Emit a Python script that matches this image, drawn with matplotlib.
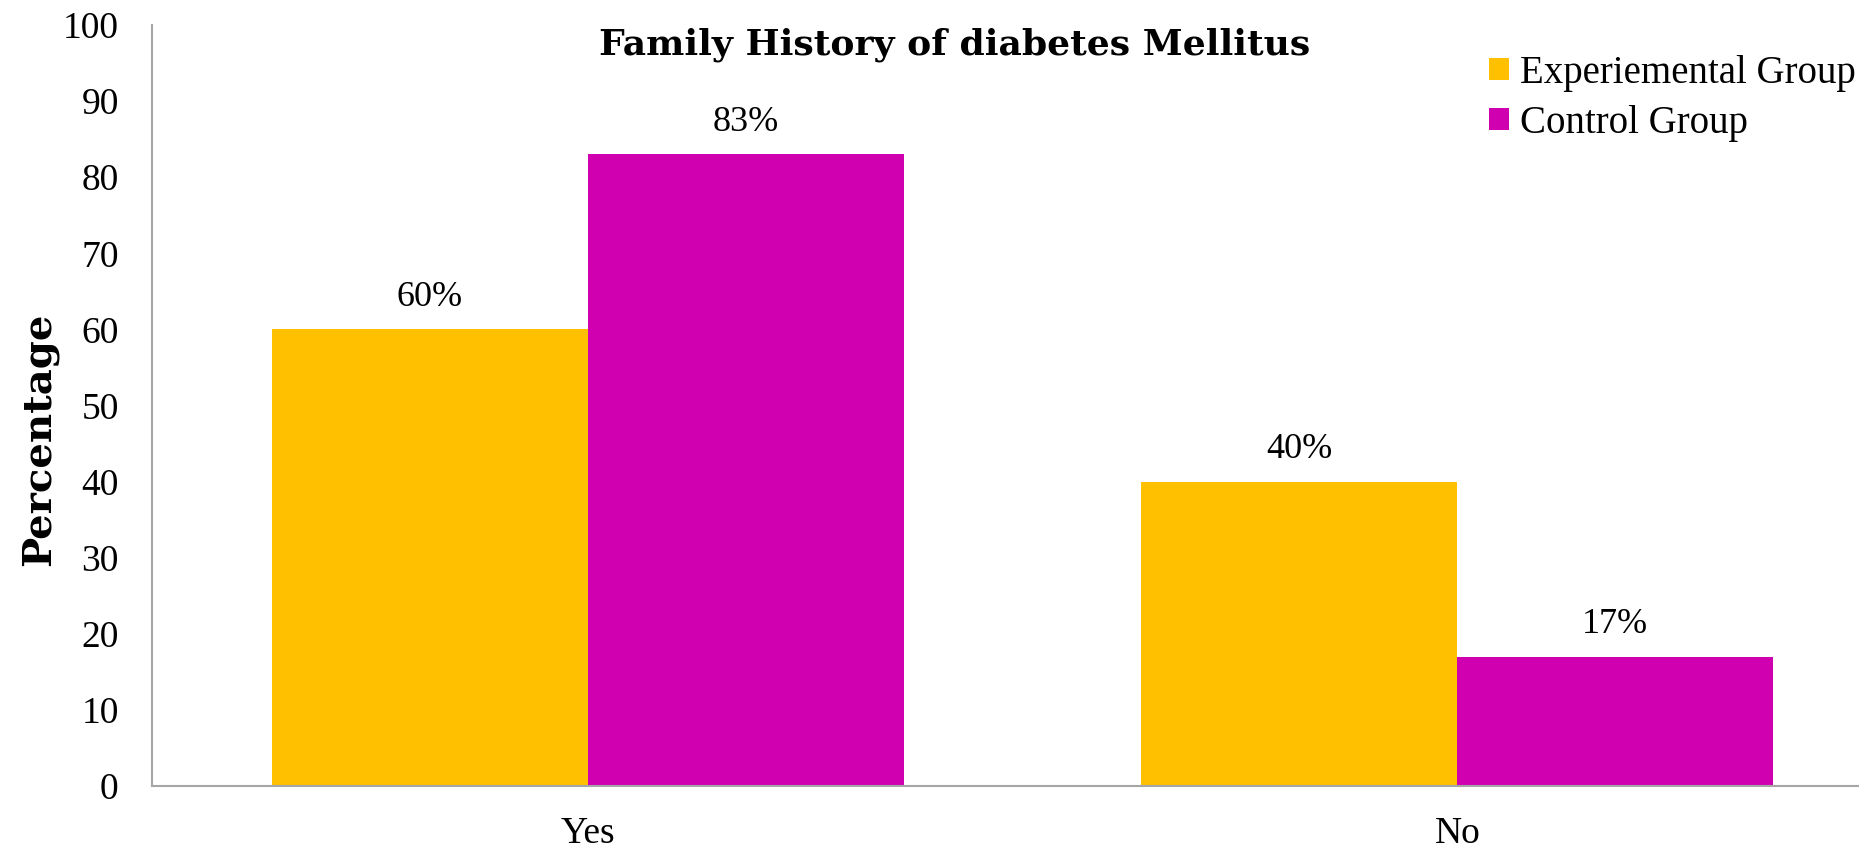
import numpy as np
import matplotlib.pyplot as plt

categories = ["Yes", "No"]
experimental = [60, 40]
control = [83, 17]
series_names = ["Experiemental Group", "Control Group"]
yticks = list(range(0, 101, 10))

col_exp = "#FFC000"
col_ctl = "#D000B0"
axis_grey = "#A6A6A6"
body_font = "Liberation Serif"
head_font = "DejaVu Serif"

fig = plt.figure(figsize=(18.59, 8.49), dpi=100)
ax = fig.add_axes([152 / 1859, 63 / 849, 1 - 152 / 1859, (786 - 25) / 849])

x = np.arange(len(categories))
w = 0.3634
b1 = ax.bar(x - w / 2, experimental, w, color=col_exp, label=series_names[0])
b2 = ax.bar(x + w / 2, control, w, color=col_ctl, label=series_names[1])

for bars in (b1, b2):
    ax.bar_label(bars, labels=[f"{v}%" for v in bars.datavalues], padding=11,
                 fontsize=26, family=body_font)

ax.set_xlim(-0.501, 1.462)
ax.set_ylim(0, 100)
ax.set_yticks(yticks)
ax.set_xticks(x)
ax.set_xticklabels(categories)
ax.tick_params(axis="both", length=0, labelsize=27)
ax.tick_params(axis="y", pad=24)
ax.tick_params(axis="x", pad=22)
for lab in ax.get_xticklabels() + ax.get_yticklabels():
    lab.set_family(body_font)

for side in ("top", "right"):
    ax.spines[side].set_visible(False)
for side in ("left", "bottom"):
    ax.spines[side].set_color(axis_grey)
    ax.spines[side].set_linewidth(1.5)

# label x is its right-hand edge (text bottom once rotated)
ax.set_ylabel("Percentage", fontsize=29, fontweight="bold", family=head_font)
ax.yaxis.set_label_coords((58 - 152) / (1859 - 152), (786 - 439) / (786 - 25))

fig.text(955 / 1859, 1 - 45 / 849, "Family History of diabetes Mellitus",
         ha="center", va="center", fontsize=26, fontweight="bold", family=head_font)

leg = ax.legend(loc="upper left", bbox_to_anchor=(1489 / 1859, 1 - 55 / 849),
                bbox_transform=fig.transFigure, frameon=False,
                prop={"family": body_font, "size": 28},
                handlelength=0.51, handleheight=0.51, handletextpad=0.3,
                labelspacing=0.33, borderpad=0, borderaxespad=0)

fig.savefig("out.png", dpi=100)
